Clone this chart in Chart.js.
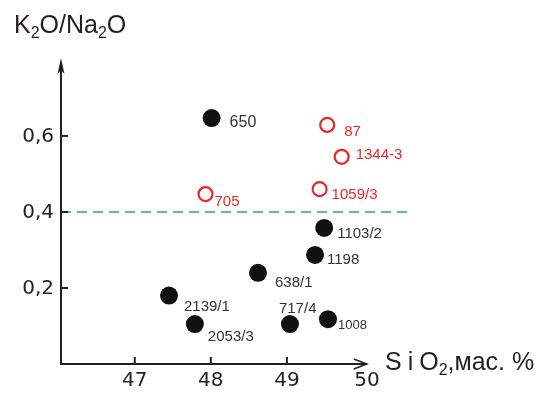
<!DOCTYPE html>
<html>
<head>
<meta charset="utf-8">
<script src="https://cdn.jsdelivr.net/npm/chart.js@4.4.1/dist/chart.umd.min.js"></script>
<style>
  html, body { margin: 0; padding: 0; background: #fff; }
  #wrap { width: 546px; height: 396px; }
</style>
</head>
<body>
<div id="wrap"><canvas id="chart" width="546" height="396"></canvas></div>
<script>
// Samples (filled black circles)
const filledX = [48.01, 49.49, 49.37, 48.62, 47.45, 47.79, 49.04, 49.54];
const filledY = [0.647, 0.358, 0.287, 0.24, 0.18, 0.105, 0.105, 0.118];
const filledLabels = ['650', '1103/2', '1198', '638/1', '2139/1', '2053/3', '717/4', '1008'];

// Samples (open red circles)
const openX = [49.53, 49.72, 49.43, 47.93];
const openY = [0.629, 0.545, 0.46, 0.447];
const openLabels = ['87', '1344-3', '1059/3', '705'];

// Axis ticks
const xTicks = [47, 48, 49, 50];
const yTicks = [0.2, 0.4, 0.6];
const yTickLabels = ['0,2', '0,4', '0,6'];

// Boundary line K2O/Na2O = 0.4
const boundaryY = 0.4;

// label offsets in px (dx, dy, font size)
const filledLabelPos = [[18, 5, 16], [13, 6, 15], [12, 5, 15], [17, 10, 15], [15, 11, 15], [13, 13, 15], [-11, -15, 15], [10, 6, 13]];
const openLabelPos = [[17, 7, 15], [14, -2, 15], [12, 6, 15], [9, 8, 15]];

var axesPlugin = {
    id: 'axesPlugin',
    afterDraw: function (chart) {
        var ctx = chart.ctx;
        var xs = chart.scales.x, ys = chart.scales.y;
        var x0 = xs.getPixelForValue(xs.min);
        var y0 = ys.getPixelForValue(0);
        var xEnd = xs.getPixelForValue(50.05);
        var yTop = ys.getPixelForValue(ys.max);

        ctx.save();
        ctx.strokeStyle = '#231f20';
        ctx.fillStyle = '#231f20';
        ctx.lineWidth = 2;
        // y axis
        ctx.beginPath();
        ctx.moveTo(x0, y0 + 1);
        ctx.lineTo(x0, yTop + 4);
        ctx.stroke();
        ctx.beginPath();
        ctx.moveTo(x0, yTop);
        ctx.lineTo(x0 - 3.5, yTop + 16);
        ctx.lineTo(x0, yTop + 12);
        ctx.lineTo(x0 + 3.5, yTop + 16);
        ctx.closePath();
        ctx.fill();
        // x axis
        ctx.beginPath();
        ctx.moveTo(x0 - 1, y0);
        ctx.lineTo(xEnd, y0);
        ctx.stroke();
        ctx.lineWidth = 1.6;
        ctx.beginPath();
        ctx.moveTo(xEnd - 13, y0 - 5);
        ctx.lineTo(xEnd, y0);
        ctx.lineTo(xEnd - 13, y0 + 5);
        ctx.stroke();

        // ticks
        ctx.lineWidth = 2;
        ctx.font = '20px "DejaVu Sans"';
        ctx.textAlign = 'center';
        ctx.textBaseline = 'middle';
        xTicks.forEach(function (t) {
            var px = xs.getPixelForValue(t);
            if (t < 50) {
                ctx.beginPath();
                ctx.moveTo(px, y0);
                ctx.lineTo(px, y0 - 7);
                ctx.stroke();
            }
            ctx.fillText(String(t), px + (t === 50 ? 4 : 0), y0 + 17);
        });
        ctx.textAlign = 'right';
        yTicks.forEach(function (t, i) {
            var py = ys.getPixelForValue(t);
            ctx.beginPath();
            ctx.moveTo(x0, py);
            ctx.lineTo(x0 + 7, py);
            ctx.stroke();
            ctx.fillText(yTickLabels[i], x0 - 7, py + 1);
        });

        // axis titles
        ctx.textAlign = 'left';
        ctx.textBaseline = 'alphabetic';
        drawRich(ctx, 14, 33, [
            ['K', 25, 0], ['2', 16, 5], ['O/Na', 25, 0], ['2', 16, 5], ['O', 25, 0]
        ]);
        drawRich(ctx, 385, 370, [
            ['S', 25, 0, 6], ['i', 25, 0, 6], ['O', 25, 0], ['2', 16, 5], [',мас. %', 25, 0]
        ]);

        // point labels
        var fm = chart.getDatasetMeta(1);
        ctx.textBaseline = 'middle';
        ctx.fillStyle = '#333';
        fm.data.forEach(function (pt, i) {
            var p = filledLabelPos[i];
            ctx.font = p[2] + 'px "Liberation Sans"';
            ctx.fillText(filledLabels[i], pt.x + p[0], pt.y + p[1]);
        });
        var om = chart.getDatasetMeta(2);
        ctx.fillStyle = '#e8262b';
        om.data.forEach(function (pt, i) {
            var p = openLabelPos[i];
            ctx.font = p[2] + 'px "Liberation Sans"';
            ctx.fillText(openLabels[i], pt.x + p[0], pt.y + p[1]);
        });
        ctx.restore();
    }
};

function drawRich(ctx, x, y, parts) {
    var cx = x;
    parts.forEach(function (p) {
        ctx.font = p[1] + 'px "Liberation Sans Narrow", "Liberation Sans"';
        ctx.fillText(p[0], cx, y + p[2]);
        cx += ctx.measureText(p[0]).width + (p[3] || 0);
    });
}

var ctx = document.getElementById('chart').getContext('2d');
new Chart(ctx, {
    type: 'scatter',
    data: {
        datasets: [
            {
                type: 'line',
                data: [{ x: 46.03, y: boundaryY }, { x: 50.62, y: boundaryY }],
                borderColor: '#3aa65c',
                borderWidth: 1.6,
                borderDash: [10, 6],
                pointRadius: 0,
                fill: false
            },
            {
                data: filledX.map(function (x, i) { return { x: x, y: filledY[i] }; }),
                backgroundColor: '#111',
                borderColor: '#111',
                pointRadius: 9,
                borderWidth: 0
            },
            {
                data: openX.map(function (x, i) { return { x: x, y: openY[i] }; }),
                backgroundColor: '#fff',
                borderColor: '#e8262b',
                pointRadius: 7,
                borderWidth: 2.2
            }
        ]
    },
    options: {
        responsive: false,
        animation: false,
        layout: { padding: { left: 61, right: 126, top: 58, bottom: 32 } },
        plugins: { legend: { display: false }, tooltip: { enabled: false } },
        scales: {
            x: { type: 'linear', min: 46.03, max: 50.75, display: false },
            y: { type: 'linear', min: 0, max: 0.805, display: false }
        }
    },
    plugins: [axesPlugin]
});
</script>
</body>
</html>
